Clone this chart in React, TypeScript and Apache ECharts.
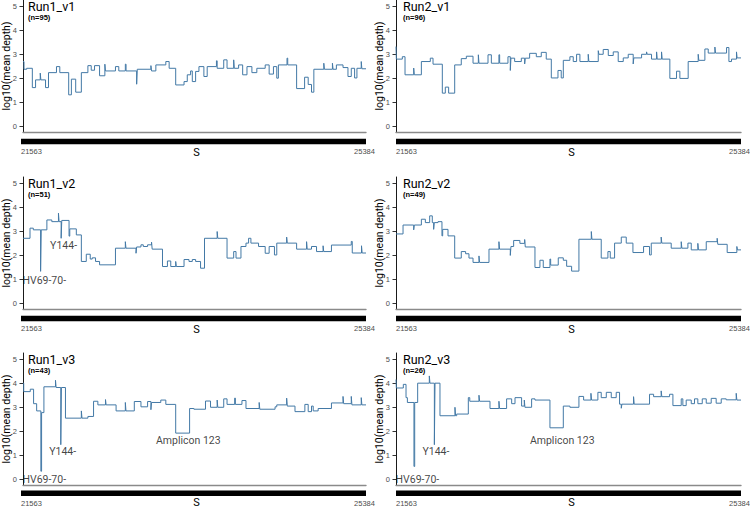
import React, { useEffect, useRef } from "react";
import * as echarts from "echarts";

// ---------- data ----------
const GENE_START = 21563;
const GENE_END = 25384;
const GENE_NAME = "S";
const Y_TICKS = [0, 1, 2, 3, 4, 5];
const Y_NAME = "log10(mean depth)";

const PANEL_TITLES = ["Run1_v1", "Run2_v1", "Run1_v2", "Run2_v2", "Run1_v3", "Run2_v3"];
const PANEL_N = ["(n=95)", "(n=96)", "(n=51)", "(n=49)", "(n=43)", "(n=26)"];

// [segment start position, log10(mean depth)] (step series)
const run1V1: [number, number][] = [
  [21563, 2.7], [21574, 2.38], [21604, 2.42], [21667, 1.62], [21703, 1.94], [21755, 2.22], [21762, 1.94],
  [21814, 1.62], [21847, 2.24], [21936, 2.49], [21973, 2.24], [22072, 1.32], [22102, 1.97], [22150, 1.43],
  [22213, 2.24], [22286, 2.53], [22323, 2.34], [22360, 2.53], [22416, 2.11], [22475, 2.59], [22482, 2.31],
  [22593, 2.49], [22630, 2.31], [22703, 2.59], [22711, 2.31], [22829, 1.76], [22836, 2.38], [22988, 2.53],
  [22995, 2.31], [23043, 2.56], [23154, 2.7], [23191, 2.42], [23264, 1.73], [23357, 1.87], [23393, 2.15],
  [23430, 2.31], [23449, 1.87], [23486, 2.29], [23523, 2.49], [23578, 2.08], [23615, 2.49], [23718, 2.73],
  [23726, 2.42], [23799, 2.77], [23836, 2.42], [23910, 2.77], [23917, 2.42], [23965, 2.56], [24010, 2.15],
  [24058, 2.49], [24113, 2.24], [24168, 2.42], [24261, 2.56], [24305, 2.18], [24353, 2.49], [24390, 2.01],
  [24408, 2.56], [24504, 2.84], [24512, 2.56], [24611, 1.58], [24700, 2.05], [24740, 1.75], [24777, 1.43],
  [24803, 2.38], [24914, 2.63], [24921, 2.38], [25010, 2.63], [25017, 2.38], [25054, 2.56], [25128, 2.45],
  [25183, 2.08], [25220, 2.42], [25257, 2.02], [25283, 2.42], [25331, 2.7], [25338, 2.4],
];

const run2V1: [number, number][] = [
  [21563, 3.32], [21567, 2.8], [21633, 2.9], [21663, 2.15], [21759, 2.43], [21766, 2.15], [21844, 2.7],
  [21943, 2.84], [21973, 2.59], [22076, 1.39], [22109, 1.64], [22146, 1.39], [22213, 2.56], [22286, 2.82],
  [22342, 2.92], [22416, 2.63], [22475, 2.98], [22482, 2.63], [22582, 2.98], [22619, 2.63], [22703, 2.98],
  [22711, 2.63], [22803, 2.9], [22829, 2.33], [22836, 2.84], [22877, 2.7], [22951, 2.84], [22988, 2.6],
  [22995, 2.84], [23043, 3.04], [23117, 2.9], [23172, 3.08], [23227, 2.8], [23283, 2.02], [23357, 2.33],
  [23393, 2.02], [23416, 2.75], [23489, 2.9], [23526, 2.7], [23563, 3.0], [23600, 2.7], [23692, 3.0],
  [23699, 2.7], [23803, 3.15], [23810, 3.0], [23858, 3.2], [23914, 2.95], [23969, 3.1], [24024, 2.7],
  [24080, 2.85], [24135, 3.0], [24190, 2.6], [24197, 2.85], [24283, 3.0], [24338, 3.1], [24345, 3.0],
  [24393, 2.8], [24449, 3.1], [24456, 2.8], [24504, 3.1], [24511, 2.8], [24596, 2.0], [24670, 2.3],
  [24707, 2.0], [24799, 2.7], [24910, 3.0], [24917, 2.75], [24984, 3.22], [25021, 3.05], [25095, 3.3],
  [25102, 3.05], [25224, 3.28], [25250, 2.7], [25279, 2.8], [25334, 3.1], [25341, 2.85],
];

const run1V2: [number, number][] = [
  [21563, 2.71], [21641, 3.13], [21678, 3.06], [21759, 1.34], [21766, 3.06], [21829, 3.47], [21884, 3.4],
  [21958, 3.75], [21965, 3.4], [21988, 2.71], [21995, 3.45], [22076, 2.8], [22084, 3.1], [22157, 2.85],
  [22213, 1.75], [22268, 2.05], [22312, 1.85], [22334, 1.9], [22371, 1.75], [22416, 1.61], [22593, 2.3],
  [22703, 2.57], [22710, 2.3], [22822, 2.09], [22829, 2.35], [22877, 2.44], [22903, 2.37], [22951, 2.44],
  [22995, 2.55], [23002, 2.26], [23117, 1.54], [23172, 1.77], [23209, 1.54], [23264, 1.75], [23271, 1.54],
  [23357, 1.83], [23412, 1.75], [23449, 1.83], [23486, 1.75], [23541, 1.47], [23585, 2.71], [23726, 2.99],
  [23733, 2.71], [23836, 1.89], [23910, 2.16], [23936, 1.89], [23991, 2.37], [24047, 2.51], [24076, 2.71],
  [24102, 2.51], [24187, 2.37], [24261, 2.09], [24305, 2.37], [24364, 2.02], [24390, 2.51], [24500, 2.76],
  [24507, 2.51], [24611, 2.26], [24722, 2.57], [24729, 2.26], [24777, 2.37], [24833, 2.16], [24906, 2.4],
  [24913, 2.16], [24999, 2.43], [25220, 2.58], [25231, 2.1], [25334, 2.4], [25341, 2.1],
];

const run2V2: [number, number][] = [
  [21563, 2.89], [21641, 3.26], [21759, 3.06], [21766, 3.26], [21844, 3.5], [21888, 3.36], [21936, 3.64],
  [21965, 3.36], [21980, 3.08], [21987, 3.36], [22028, 3.4], [22072, 2.81], [22080, 3.08], [22139, 2.81],
  [22213, 1.89], [22286, 2.16], [22334, 2.07], [22371, 1.89], [22416, 1.71], [22482, 1.98], [22489, 1.71],
  [22593, 2.26], [22703, 2.57], [22710, 2.26], [22829, 2.0], [22836, 2.37], [22866, 2.62], [22935, 2.5],
  [22988, 2.66], [22995, 2.35], [23102, 1.5], [23157, 1.8], [23194, 1.5], [23268, 1.85], [23276, 1.6],
  [23360, 1.9], [23416, 1.8], [23453, 1.55], [23508, 1.35], [23589, 2.67], [23726, 2.99], [23733, 2.67],
  [23836, 1.89], [23910, 2.16], [23936, 1.89], [23984, 2.51], [24058, 2.76], [24113, 2.51], [24187, 2.12],
  [24305, 2.37], [24371, 2.02], [24390, 2.51], [24500, 2.76], [24507, 2.51], [24611, 2.3], [24722, 2.57],
  [24729, 2.3], [24796, 2.51], [24833, 2.23], [24906, 2.5], [24913, 2.23], [24999, 2.57], [25120, 2.71],
  [25127, 2.46], [25231, 2.12], [25338, 2.37], [25345, 2.23],
];

const run1V3: [number, number][] = [
  [21563, 4.0], [21571, 3.65], [21644, 3.75], [21681, 3.15], [21715, 2.85], [21762, 0.35], [21770, 2.78],
  [21796, 3.85], [21925, 4.12], [21932, 3.82], [21984, 1.45], [21991, 3.82], [22036, 2.55], [22213, 2.85],
  [22220, 2.55], [22286, 2.62], [22349, 3.25], [22397, 3.1], [22482, 3.32], [22489, 3.1], [22600, 2.85],
  [22703, 3.2], [22710, 2.85], [22803, 3.24], [22877, 3.02], [22951, 3.24], [22988, 2.9], [22995, 3.2],
  [23098, 3.3], [23154, 3.12], [23264, 1.93], [23419, 2.95], [23467, 2.92], [23596, 3.26], [23652, 3.0],
  [23726, 3.3], [23733, 3.0], [23799, 3.35], [23836, 3.12], [23921, 3.38], [23929, 3.12], [24002, 3.28],
  [24047, 2.95], [24194, 3.2], [24201, 2.92], [24371, 3.02], [24390, 3.1], [24500, 3.38], [24507, 3.05],
  [24593, 2.82], [24703, 3.12], [24740, 2.82], [24777, 3.05], [24796, 2.85], [24851, 2.95], [24999, 3.18],
  [25128, 3.45], [25135, 3.15], [25220, 3.45], [25227, 3.1], [25331, 3.4], [25338, 3.1],
];

const run2V3: [number, number][] = [
  [21563, 4.15], [21567, 3.8], [21644, 3.95], [21674, 3.4], [21689, 3.2], [21762, 0.55], [21770, 3.2],
  [21803, 4.0], [21932, 4.3], [21939, 4.0], [21988, 1.45], [21995, 4.0], [22050, 2.65], [22216, 3.0],
  [22223, 2.65], [22235, 2.72], [22364, 3.4], [22380, 3.25], [22482, 3.5], [22489, 3.25], [22604, 2.95],
  [22703, 3.25], [22710, 2.95], [22788, 3.35], [22844, 3.15], [22881, 3.4], [22954, 3.05], [22984, 3.3],
  [22991, 3.0], [23065, 3.35], [23102, 3.3], [23268, 2.15], [23416, 3.05], [23489, 3.0], [23589, 3.45],
  [23641, 3.3], [23722, 3.58], [23729, 3.3], [23799, 3.62], [23836, 3.4], [23892, 3.62], [23947, 3.4],
  [24002, 3.62], [24039, 3.13], [24058, 2.96], [24065, 3.13], [24194, 3.44], [24201, 3.13], [24371, 3.54],
  [24416, 3.44], [24500, 3.68], [24507, 3.44], [24593, 3.54], [24630, 3.07], [24722, 3.35], [24740, 3.07],
  [24777, 3.3], [24833, 3.15], [24869, 3.35], [24906, 3.15], [24955, 3.35], [24999, 3.17], [25054, 3.37],
  [25109, 3.17], [25165, 3.35], [25220, 3.31], [25331, 3.58], [25338, 3.3],
];

type Note = { name: string; value: [number, number] };
const run1V2Notes: Note[] = [
  { name: "Y144-", value: [22015, 2.4] },
  { name: "HV69-70-", value: [21800, 0.95] },
];
const v3Notes: Note[] = [
  { name: "HV69-70-", value: [21800, 0.0] },
  { name: "Y144-", value: [22005, 1.16] },
  { name: "Amplicon 123", value: [23404, 1.61] },
];

const PANEL_DATA = [run1V1, run2V1, run1V2, run2V2, run1V3, run2V3];
const PANEL_NOTES: Note[][] = [[], [], run1V2Notes, [], v3Notes, v3Notes];

// ---------- layout ----------
const COL_LEFT = [21, 396];
const ROW_TOP = [0, 177, 353];
const PLOT_W = 345;
const PLOT_H = 132;
const LINE_COLOR = "#4379a6";
const NARROW = "'Liberation Sans Narrow', Roboto, 'Liberation Sans', sans-serif";
const ARIAL = "'Liberation Sans', Arial, sans-serif";

function buildOption() {
  const grid: any[] = [];
  const xAxis: any[] = [];
  const yAxis: any[] = [];
  const series: any[] = [];
  const graphic: any[] = [];

  const endLabel = {
    show: true,
    position: "bottom",
    distance: 6,
    formatter: (p: any) => String(p.value),
    fontSize: 7.5,
    color: "#4d4d4d",
    fontFamily: ARIAL,
  };

  PANEL_DATA.forEach((data, i) => {
    const col = i % 2;
    const row = Math.floor(i / 2);
    const left = COL_LEFT[col];
    const top = ROW_TOP[row];

    const gi = grid.length;
    grid.push({ left, top, width: PLOT_W, height: PLOT_H });
    xAxis.push({
      gridIndex: gi,
      type: "value",
      min: GENE_START,
      max: GENE_END,
      axisLine: { show: true, onZero: false, lineStyle: { color: "#8a8a8a", width: 1.4 } },
      axisTick: { show: false },
      axisLabel: { show: false },
      splitLine: { show: false },
    });
    yAxis.push({
      gridIndex: gi,
      type: "value",
      min: -0.22,
      max: 5.25,
      name: Y_NAME,
      nameLocation: "middle",
      nameGap: 11,
      nameMoveOverlap: false,
      nameTextStyle: { fontSize: 10.5, color: "#000", fontFamily: NARROW },
      axisLine: { show: true, onZero: false, lineStyle: { color: "#1a1a1a", width: 1 } },
      axisTick: { show: true, length: 3.5, customValues: Y_TICKS, lineStyle: { color: "#333" } },
      axisLabel: { customValues: Y_TICKS, fontSize: 7.5, color: "#4d4d4d", margin: 6, fontFamily: ARIAL },
      splitLine: { show: false },
    });
    const last = data[data.length - 1][1];
    series.push({
      type: "line",
      xAxisIndex: gi,
      yAxisIndex: gi,
      data: [...data, [GENE_END, last]],
      step: "end",
      symbol: "none",
      lineStyle: { color: LINE_COLOR, width: 1 },
      silent: true,
    });
    const notes = PANEL_NOTES[i];
    if (notes.length) {
      series.push({
        type: "scatter",
        xAxisIndex: gi,
        yAxisIndex: gi,
        symbolSize: 1,
        itemStyle: { color: "rgba(0,0,0,0)" },
        data: notes,
        silent: true,
        label: {
          show: true,
          position: "inside",
          formatter: "{b}",
          fontSize: 10.5,
          color: "#111",
          fontFamily: NARROW,
        },
      });
    }

    // gene track
    const gj = grid.length;
    const barC = top + PLOT_H + 9.5;
    grid.push({ left, top: barC - 4, width: PLOT_W, height: 8 });
    xAxis.push({
      gridIndex: gj,
      type: "value",
      min: GENE_START,
      max: GENE_END,
      axisLine: { show: false, onZero: false },
      axisTick: { show: false },
      splitLine: { show: false },
      axisLabel: { show: false },
      name: GENE_NAME,
      nameLocation: "middle",
      nameGap: 1,
      nameMoveOverlap: false,
      nameTextStyle: { fontSize: 11, color: "#000", fontFamily: NARROW, padding: [0, 0, 0, 6] },
    });
    yAxis.push({ gridIndex: gj, type: "value", min: -1, max: 1, show: false });
    series.push({
      type: "line",
      xAxisIndex: gj,
      yAxisIndex: gj,
      data: [
        [GENE_START, 0],
        [GENE_END, 0],
      ],
      symbol: "none",
      silent: true,
      lineStyle: { color: "#000", width: 5.5, cap: "butt" },
      markPoint: {
        symbol: "circle",
        symbolSize: 0,
        silent: true,
        label: endLabel,
        data: [
          { coord: [GENE_START, 0], value: GENE_START, label: { align: "left", offset: [0, 0] } },
          { coord: [GENE_END, 0], value: GENE_END, label: { offset: [-1.5, 0] } },
        ],
      },
    });

    graphic.push({
      type: "text",
      x: left + 7,
      y: top + 6,
      silent: true,
      style: {
        text: PANEL_TITLES[i],
        fontSize: 12.5,
        fontFamily: NARROW,
        fill: "#000",
        align: "left",
        verticalAlign: "middle",
      },
    });
    graphic.push({
      type: "text",
      x: left + 7,
      y: top + 17,
      silent: true,
      style: {
        text: PANEL_N[i],
        fontSize: 7.5,
        fontWeight: "bold",
        fontFamily: ARIAL,
        fill: "#000",
        align: "left",
        verticalAlign: "middle",
      },
    });
  });

  return {
    animation: false,
    backgroundColor: "#fff",
    grid,
    xAxis,
    yAxis,
    series,
    graphic,
  };
}

export default function App() {
  const ref = useRef<HTMLDivElement>(null);
  useEffect(() => {
    if (!ref.current) return;
    const chart = echarts.init(ref.current, undefined, { renderer: "svg" });
    chart.setOption(buildOption() as any);
    return () => chart.dispose();
  }, []);
  return (
    <div
      ref={ref}
      style={{ position: "fixed", left: 0, top: 0, width: 750, height: 509, background: "#fff" }}
    />
  );
}
